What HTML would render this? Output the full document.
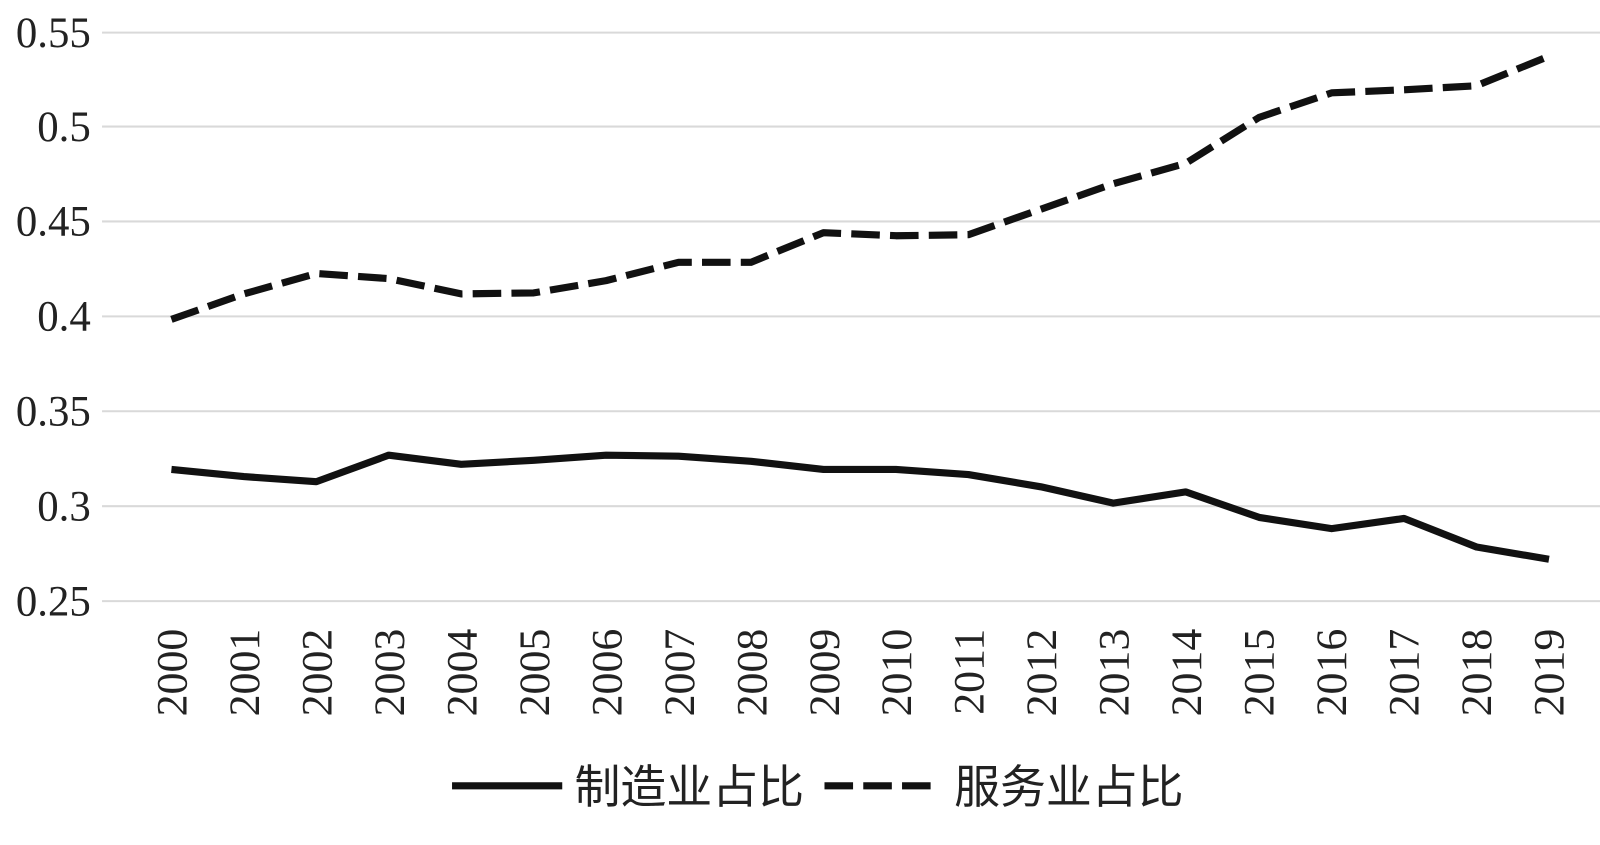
<!DOCTYPE html>
<html><head><meta charset="utf-8"><style>
html,body{margin:0;padding:0;background:#fff;}
svg{display:block}
</style></head><body>
<svg width="1600" height="845" viewBox="0 0 1568 828" preserveAspectRatio="none" xmlns="http://www.w3.org/2000/svg">
<g stroke="#d9d9d9" stroke-width="2">
<line x1="100" x2="1568" y1="32" y2="32"/>
<line x1="100" x2="1568" y1="124" y2="124"/>
<line x1="100" x2="1568" y1="217" y2="217"/>
<line x1="100" x2="1568" y1="310" y2="310"/>
<line x1="100" x2="1568" y1="403" y2="403"/>
<line x1="100" x2="1568" y1="496" y2="496"/>
<line x1="100" x2="1568" y1="589" y2="589"/>
</g>
<g font-family="Liberation Serif, serif" font-size="42" fill="#222" text-anchor="end">
<text x="89" y="46">0.55</text>
<text x="89" y="138">0.5</text>
<text x="89" y="231">0.45</text>
<text x="89" y="324">0.4</text>
<text x="89" y="417">0.35</text>
<text x="89" y="510">0.3</text>
<text x="89" y="603">0.25</text>
</g>
<g font-family="Liberation Serif, serif" font-size="43" fill="#222" text-anchor="end">
<text transform="translate(183,616) rotate(-90)">2000</text>
<text transform="translate(254,616) rotate(-90)">2001</text>
<text transform="translate(325,616) rotate(-90)">2002</text>
<text transform="translate(396,616) rotate(-90)">2003</text>
<text transform="translate(467,616) rotate(-90)">2004</text>
<text transform="translate(538,616) rotate(-90)">2005</text>
<text transform="translate(609,616) rotate(-90)">2006</text>
<text transform="translate(680,616) rotate(-90)">2007</text>
<text transform="translate(751,616) rotate(-90)">2008</text>
<text transform="translate(822,616) rotate(-90)">2009</text>
<text transform="translate(893,616) rotate(-90)">2010</text>
<text transform="translate(964,616) rotate(-90)">2011</text>
<text transform="translate(1035,616) rotate(-90)">2012</text>
<text transform="translate(1106,616) rotate(-90)">2013</text>
<text transform="translate(1177,616) rotate(-90)">2014</text>
<text transform="translate(1248,616) rotate(-90)">2015</text>
<text transform="translate(1319,616) rotate(-90)">2016</text>
<text transform="translate(1390,616) rotate(-90)">2017</text>
<text transform="translate(1461,616) rotate(-90)">2018</text>
<text transform="translate(1532,616) rotate(-90)">2019</text>
</g>
<polyline fill="none" stroke="#111" stroke-width="7" stroke-linejoin="round"
points="168,460 239,467 310,472 381,446 452,455 523,451 594,446 665,447 736,452 807,460 878,460 949,465 1020,477 1091,493 1162,482 1234,507 1305,518 1376,508 1447,536 1518,548"/>
<polyline fill="none" stroke="#111" stroke-width="7" stroke-dasharray="28,10" stroke-linejoin="round"
points="168,313 239,288 310,268 381,273 452,288 523,287 594,275 665,257 736,257 807,228 878,231 949,230 1020,205 1091,180 1162,160 1234,115 1305,91 1376,88 1447,84 1518,55"/>
<line x1="443" x2="551" y1="770" y2="770" stroke="#111" stroke-width="7"/>
<line x1="808" x2="918" y1="770" y2="770" stroke="#111" stroke-width="7" stroke-dasharray="28,10"/>
<g font-family="Liberation Sans, Noto Sans CJK SC, sans-serif" font-size="45" fill="#222">
<text x="563" y="787">制造业占比</text>
<text x="935" y="787">服务业占比</text>
</g>
</svg>
</body></html>
